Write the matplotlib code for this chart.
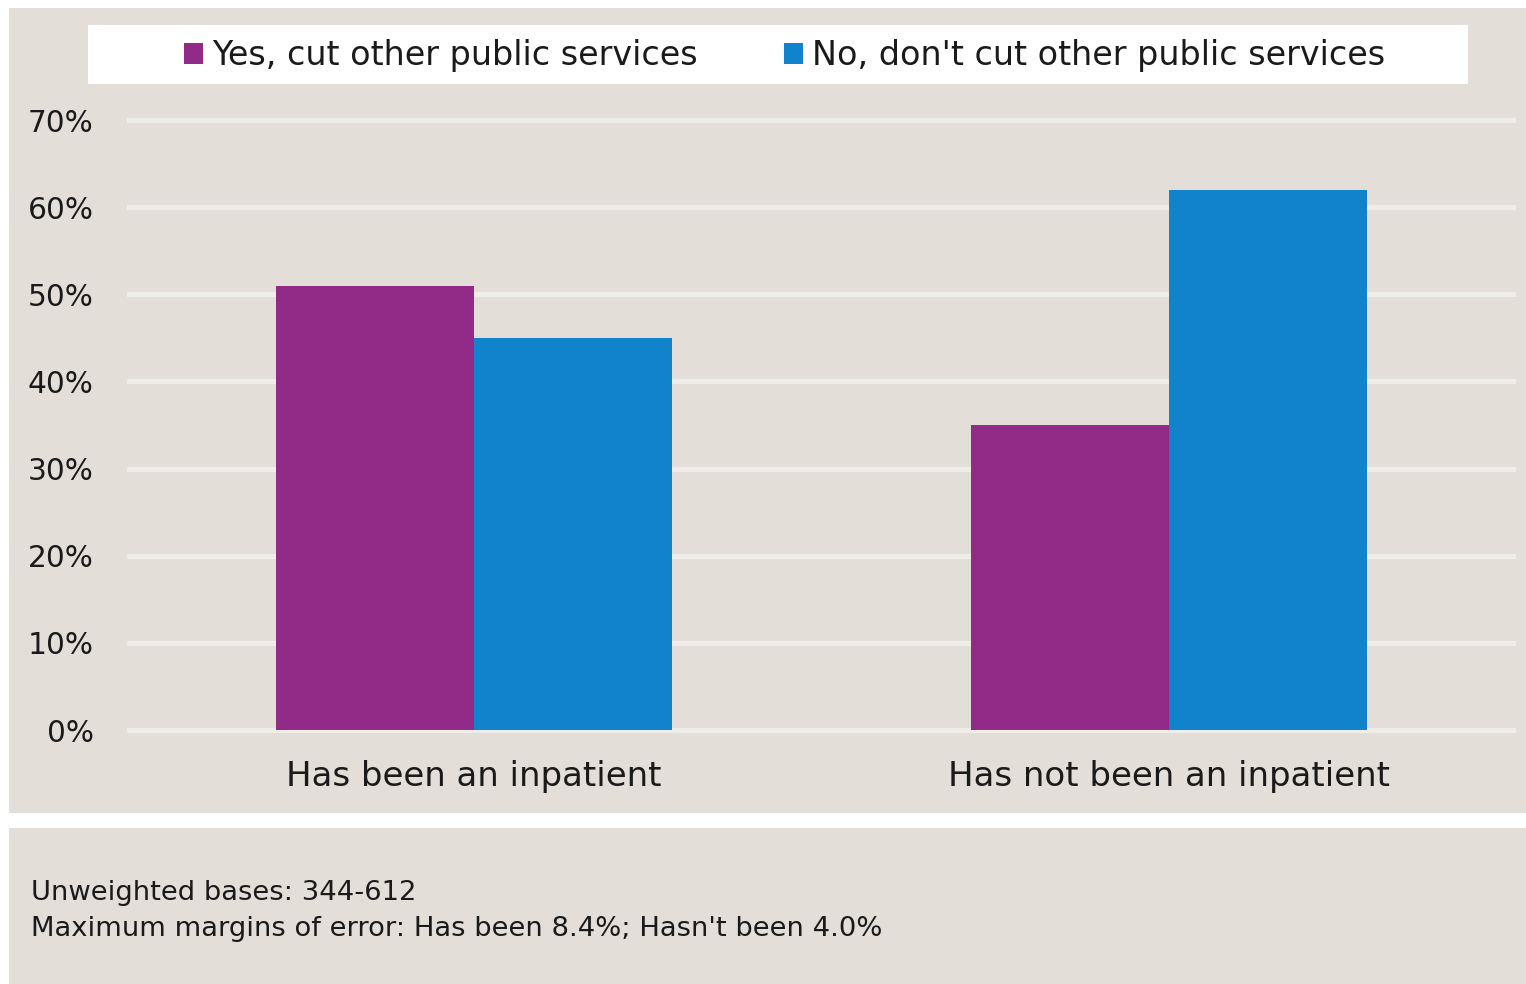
import matplotlib
matplotlib.use("Agg")
import matplotlib.pyplot as plt
from matplotlib.patches import Rectangle
import numpy as np

categories = ["Has been an inpatient", "Has not been an inpatient"]
series_names = ["Yes, cut other public services", "No, don't cut other public services"]
yes_values = [51, 35]
no_values = [45, 62]
yticks = [0, 10, 20, 30, 40, 50, 60, 70]
ytick_labels = ["0%", "10%", "20%", "30%", "40%", "50%", "60%", "70%"]
footer_lines = ["Unweighted bases: 344-612",
                "Maximum margins of error: Has been 8.4%; Hasn't been 4.0%"]

BG = "#e3dfd8"
GRID = "#efede8"
PURPLE = "#922b87"
BLUE = "#1183cc"
FONT = "DejaVu Sans"

W, H = 1526, 984
fig = plt.figure(figsize=(W / 100, H / 100), dpi=100)
fig.patch.set_facecolor("white")

def fx(px):
    return px / W

def fy(py):
    return 1 - py / H

# panels
fig.add_artist(Rectangle((fx(9), fy(813)), fx(W - 9), (813 - 8) / H,
                         transform=fig.transFigure, facecolor=BG, edgecolor="none", zorder=0))
fig.add_artist(Rectangle((fx(9), fy(984)), fx(W - 9), (984 - 828) / H,
                         transform=fig.transFigure, facecolor=BG, edgecolor="none", zorder=0))
# legend box
fig.add_artist(Rectangle((fx(88), fy(84)), fx(1468 - 88), (84 - 25) / H,
                         transform=fig.transFigure, facecolor="white", edgecolor="none", zorder=1))

ypad = 0.4
px_per_unit = (730 - 120) / 70
ax_bottom_px = 730 + ypad * px_per_unit
ax_top_px = 120 - ypad * px_per_unit
ax = fig.add_axes([fx(127), fy(ax_bottom_px), fx(1516 - 127), (ax_bottom_px - ax_top_px) / H])
ax.set_facecolor("none")
ax.set_zorder(2)

x = np.arange(len(categories))
bw = 0.285
ax.bar(x - bw / 2, yes_values, bw, color=PURPLE, label=series_names[0], zorder=3)
ax.bar(x + bw / 2, no_values, bw, color=BLUE, label=series_names[1], zorder=3)

ax.set_xlim(-0.5, 1.5)
ax.set_ylim(-ypad, 70 + ypad)
ax.set_yticks(yticks)
ax.set_yticklabels(ytick_labels, fontsize=21.3, family=FONT, color="#1a1a1a")
ax.set_xticks(x)
ax.set_xticklabels(categories, fontsize=24.5, family=FONT, color="#1a1a1a")
ax.tick_params(axis="both", length=0)
ax.tick_params(axis="y", pad=24)
ax.tick_params(axis="x", pad=19)
for s in ax.spines.values():
    s.set_visible(False)
ax.yaxis.grid(True, color=GRID, linewidth=3.6, zorder=1)
ax.set_axisbelow(True)

handles, labels = ax.get_legend_handles_labels()
leg = fig.legend(handles, labels, loc="center", bbox_to_anchor=(fx(784.5), fy(56)),
                 ncol=2, frameon=False, prop={"family": FONT, "size": 24},
                 handlelength=0.57, handleheight=0.57, handletextpad=0.27,
                 columnspacing=2.6)
for t in leg.get_texts():
    t.set_color("#1a1a1a")
leg.set_zorder(3)

fig.text(fx(31), fy(893), footer_lines[0], fontsize=19.7, family=FONT, color="#1a1a1a",
         va="center", ha="left", zorder=3)
fig.text(fx(31), fy(929), footer_lines[1], fontsize=19.7, family=FONT, color="#1a1a1a",
         va="center", ha="left", zorder=3)

fig.savefig("out.png", dpi=100, facecolor=fig.get_facecolor())
